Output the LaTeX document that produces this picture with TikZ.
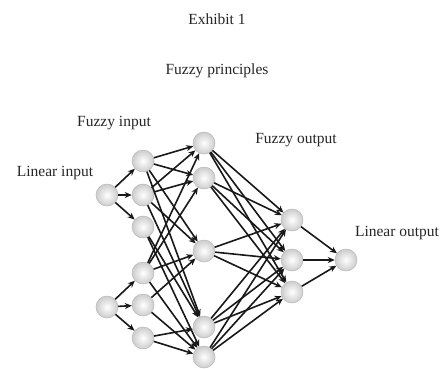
\documentclass[tikz,border=0pt]{standalone}
\usepackage{fontspec}
\setmainfont{Liberation Serif}
\usetikzlibrary{arrows.meta}
\begin{document}
\begin{tikzpicture}[x=1pt,y=-1pt,
  neuron/.style={circle,minimum size=22pt,inner sep=0pt,inner color=white,outer color=gray!40,draw=gray!55,line width=0.5pt},
  conn/.style={line width=1.6pt,black!90,-{Stealth[length=7pt,width=6pt]}},
  lbl/.style={font=\fontsize{15.5}{18}\selectfont,text=black!85,inner sep=0pt}]
\useasboundingbox (0,0) rectangle (443,368);
\fill[white] (0,0) rectangle (443,368);
% labels
\node[lbl] (t1) at (217,19.5) {Exhibit 1};
\node[lbl] (t2) at (217,71) {Fuzzy principles};
\node[lbl] (lfi) at (114,123) {Fuzzy input};
\node[lbl] (lli) at (55,173) {Linear input};
\node[lbl] (lfo) at (296,140) {Fuzzy output};
\node[lbl] (llo) at (397,233) {Linear output};
% nodes
\node[neuron] (L1) at (107,195) {};
\node[neuron] (L2) at (107,307) {};
\node[neuron] (F1) at (143,161) {};
\node[neuron] (F2) at (143,195) {};
\node[neuron] (F3) at (143,227) {};
\node[neuron] (F4) at (143,273) {};
\node[neuron] (F5) at (143,305) {};
\node[neuron] (F6) at (143,338) {};
\node[neuron] (H1) at (204,143) {};
\node[neuron] (H2) at (204,178) {};
\node[neuron] (H3) at (204,251) {};
\node[neuron] (H4) at (204,327) {};
\node[neuron] (H5) at (204,357) {};
\node[neuron] (O1) at (292,220) {};
\node[neuron] (O2) at (292,260) {};
\node[neuron] (O3) at (292,292) {};
\node[neuron] (Y) at (346,260) {};
% linear input -> fuzzy input
\foreach \t in {F1,F2,F3} \draw[conn] (L1) -- (\t);
\foreach \t in {F4,F5,F6} \draw[conn] (L2) -- (\t);
% fuzzy input -> hidden
\foreach \s/\t in {F1/H1,F1/H2,F1/H3,F1/H4,
                   F2/H1,F2/H2,F2/H3,F2/H4,
                   F3/H4,F3/H5,
                   F4/H1,F4/H2,F4/H3,F4/H5,
                   F5/H3,F5/H5,
                   F6/H4,F6/H5}
  \draw[conn] (\s) -- (\t);
% hidden -> fuzzy output
\foreach \s in {H1,H2,H3,H4,H5}
  \foreach \t in {O1,O2,O3}
    \draw[conn] (\s) -- (\t);
% fuzzy output -> linear output
\foreach \s in {O1,O2,O3} \draw[conn] (\s) -- (Y);
\end{tikzpicture}
\end{document}
